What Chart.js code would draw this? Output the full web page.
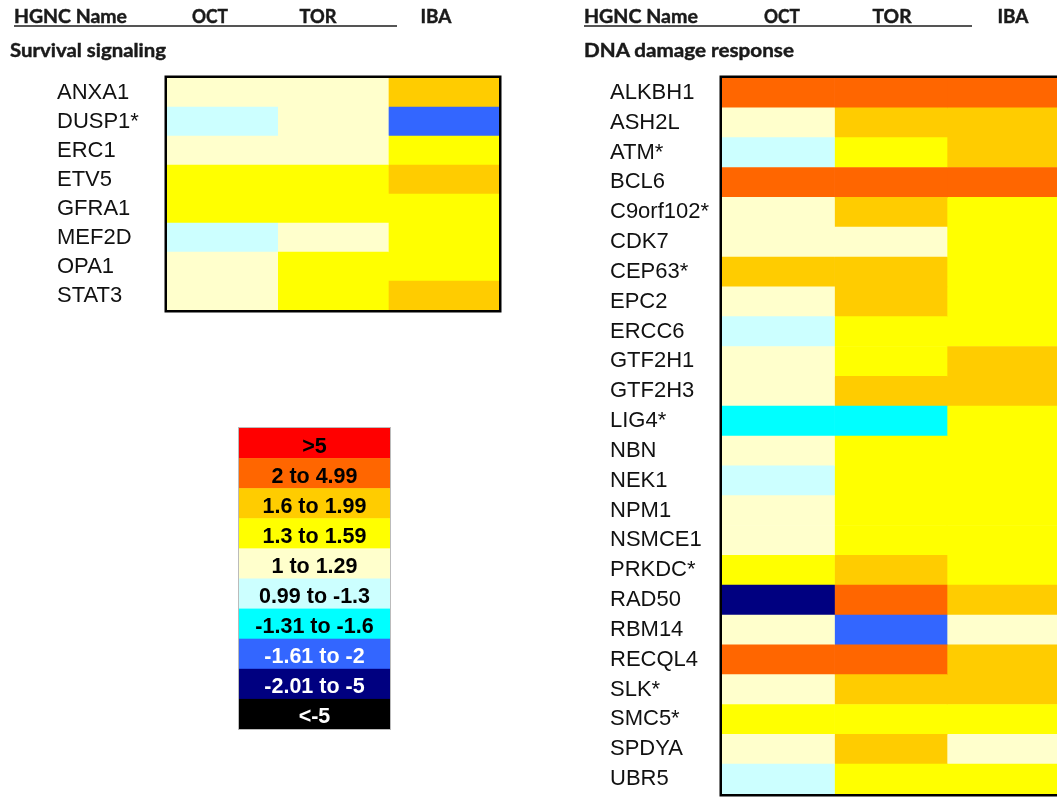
<!DOCTYPE html>
<html>
<head>
<meta charset="utf-8">
<script src="https://cdn.jsdelivr.net/npm/chart.js@4.4.1/dist/chart.umd.min.js"></script>
<style>
  html, body { margin: 0; padding: 0; background: #fff; }
  #wrap { position: relative; width: 1057px; height: 797px; overflow: hidden; }
  #wrap canvas, #wrap svg { position: absolute; }
  #overlay { pointer-events: none; }
</style>
</head>
<body>
<div id="wrap">
  <canvas id="survChart" width="530" height="330" style="left:0;top:0"></canvas>
  <canvas id="dnaChart" width="530" height="820" style="left:540px;top:0"></canvas>
  <svg id="overlay" width="1057" height="797" style="left:0;top:0"></svg>
</div>
<script>
// ---- data ----
const columns = ['OCT', 'TOR', 'IBA'];

// fold change, one representative value per colour bin
const survivalGenes = ['ANXA1', 'DUSP1*', 'ERC1', 'ETV5', 'GFRA1', 'MEF2D', 'OPA1', 'STAT3'];
const survivalOct = [1.1, 0.5, 1.1, 1.4, 1.4, 0.5, 1.1, 1.1];
const survivalTor = [1.1, 1.1, 1.1, 1.4, 1.4, 1.1, 1.4, 1.4];
const survivalIba = [1.8, -1.8, 1.4, 1.8, 1.4, 1.4, 1.4, 1.8];

const dnaGenes = ['ALKBH1', 'ASH2L', 'ATM*', 'BCL6', 'C9orf102*', 'CDK7', 'CEP63*', 'EPC2',
  'ERCC6', 'GTF2H1', 'GTF2H3', 'LIG4*', 'NBN', 'NEK1', 'NPM1', 'NSMCE1', 'PRKDC*', 'RAD50',
  'RBM14', 'RECQL4', 'SLK*', 'SMC5*', 'SPDYA', 'UBR5'];
const dnaOct = [3, 1.1, 0.5, 3, 1.1, 1.1, 1.8, 1.1, 0.5, 1.1, 1.1, -1.5, 1.1, 0.5, 1.1, 1.1, 1.4, -3, 1.1, 3, 1.1, 1.4, 1.1, 0.5];
const dnaTor = [3, 1.8, 1.4, 3, 1.8, 1.1, 1.8, 1.8, 1.4, 1.4, 1.8, -1.5, 1.4, 1.4, 1.4, 1.4, 1.8, 3, -1.8, 3, 1.8, 1.4, 1.8, 1.4];
const dnaIba = [3, 1.8, 1.8, 3, 1.4, 1.4, 1.4, 1.4, 1.4, 1.8, 1.8, 1.4, 1.4, 1.4, 1.4, 1.4, 1.4, 1.8, 1.1, 1.8, 1.8, 1.4, 1.1, 1.4];

// colour key
const binLabels = ['>5', '2 to 4.99', '1.6 to 1.99', '1.3 to 1.59', '1 to 1.29',
  '0.99 to -1.3', '-1.31 to -1.6', '-1.61 to -2', '-2.01 to -5', '<-5'];
const binMins = [5, 2, 1.6, 1.3, 1, -1.3, -1.6, -2, -5, -Infinity];
const binColors = ['#FF0000', '#FF6600', '#FFCC00', '#FFFF00', '#FFFFCC',
  '#CCFFFF', '#00FFFF', '#3366FF', '#000080', '#000000'];
const binTextColors = ['#000', '#000', '#000', '#000', '#000', '#000', '#000', '#fff', '#fff', '#fff'];

function colorFor(v) {
  const i = binMins.findIndex(m => v >= m);
  return binColors[i];
}

// ---- heatmaps ----
const frame = {
  id: 'frame',
  afterDatasetsDraw(chart) {
    const { ctx, chartArea: a } = chart;
    ctx.save();
    ctx.lineWidth = 2.5;
    ctx.strokeStyle = '#000';
    ctx.strokeRect(a.left - 1.25, a.top - 1.25, a.right - a.left + 2.5, a.bottom - a.top + 2.5);
    ctx.restore();
  }
};

function makeHeatmap(canvasId, genes, cols, pad, labelWidth) {
  const datasets = cols.map((vals, j) => ({
    label: columns[j],
    data: genes.map(() => [j, j + 1]),
    backgroundColor: vals.map(colorFor),
    borderWidth: 0,
    barPercentage: 1,
    categoryPercentage: 1,
    grouped: false
  }));

  return new Chart(document.getElementById(canvasId), {
    type: 'bar',
    data: { labels: genes, datasets },
    options: {
      indexAxis: 'y',
      responsive: false,
      animation: false,
      layout: { padding: pad },
      plugins: { legend: { display: false }, tooltip: { enabled: false } },
      scales: {
        x: { type: 'linear', min: 0, max: 3, display: false },
        y: {
          grid: { display: false, drawTicks: false },
          border: { display: false },
          ticks: {
            autoSkip: false,
            crossAlign: 'far',
            padding: 0,
            color: '#111',
            font: { family: '"Liberation Sans", Arial, sans-serif', size: 22 }
          },
          afterFit: s => { s.width = labelWidth; }
        }
      }
    },
    plugins: [frame]
  });
}

makeHeatmap('survChart', survivalGenes, [survivalOct, survivalTor, survivalIba],
  { left: 57, top: 78, right: 31, bottom: 20 }, 110);
makeHeatmap('dnaChart', dnaGenes, [dnaOct, dnaTor, dnaIba],
  { left: 70, top: 78, right: 10.5, bottom: 26 }, 112);

// ---- headers, titles, colour key ----
const svg = document.getElementById('overlay');
const NS = 'http://www.w3.org/2000/svg';

function el(tag, attrs, text) {
  const e = document.createElementNS(NS, tag);
  for (const k in attrs) e.setAttribute(k, attrs[k]);
  if (text !== undefined) e.textContent = text;
  svg.appendChild(e);
  return e;
}

const headFont = { 'font-family': 'Lato, "Open Sans", sans-serif', 'font-weight': 700, 'font-size': 19.5,
  fill: '#1a1a1a', stroke: '#1a1a1a', 'stroke-width': 0.45 };

const panels = [
  { title: 'Survival signaling', titleX: 10, titleW: 156, nameX: 14, nameW: 113, line: [14, 397],
    colX: [210, 318, 436], colW: [36, 37, 31] },
  { title: 'DNA damage response', titleX: 584, titleW: 210, nameX: 584, nameW: 114, line: [584, 972],
    colX: [782, 892, 1013], colW: [36, 39, 31] }
];

panels.forEach(p => {
  el('line', { x1: p.line[0], x2: p.line[1], y1: 26, y2: 26, stroke: '#555', 'stroke-width': 2 });
  el('text', { ...headFont, x: p.nameX, y: 23, textLength: p.nameW, lengthAdjust: 'spacingAndGlyphs' }, 'HGNC Name');
  columns.forEach((c, i) => {
    el('text', { ...headFont, x: p.colX[i], y: 23, 'text-anchor': 'middle',
      textLength: p.colW[i], lengthAdjust: 'spacingAndGlyphs' }, c);
  });
  el('text', { ...headFont, x: p.titleX, y: 57, textLength: p.titleW, lengthAdjust: 'spacingAndGlyphs' }, p.title);
});

const keyX = 239, keyY = 428, keyW = 151, keyH = 30.1;
binLabels.forEach((lab, i) => {
  el('rect', { x: keyX, y: keyY + i * keyH, width: keyW, height: keyH + 0.5, fill: binColors[i] });
  el('text', { x: keyX + keyW / 2, y: keyY + i * keyH + 24.5, 'text-anchor': 'middle',
    'font-family': '"Liberation Sans", Arial, sans-serif', 'font-weight': 700, 'font-size': 21.5,
    fill: binTextColors[i] }, lab);
});
el('rect', { x: keyX - 0.5, y: keyY - 0.5, width: keyW + 1, height: keyH * 10 + 1,
  fill: 'none', stroke: '#bbb', 'stroke-width': 1 });
</script>
</body>
</html>
